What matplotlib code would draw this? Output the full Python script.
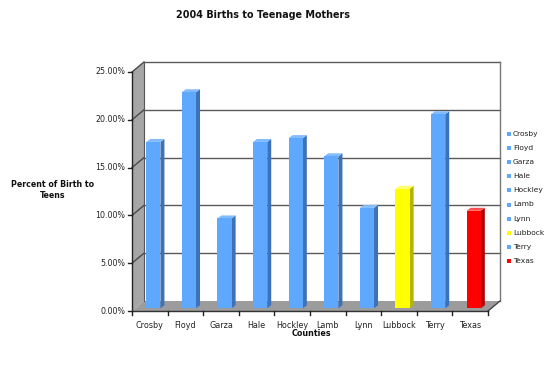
import matplotlib
matplotlib.use("Agg")
import matplotlib.pyplot as plt
from matplotlib.patches import Polygon
from matplotlib.transforms import IdentityTransform
from matplotlib.lines import Line2D
import numpy as np

counties = ["Crosby", "Floyd", "Garza", "Hale", "Hockley", "Lamb", "Lynn", "Lubbock", "Terry", "Texas"]
values = [17.4, 22.6, 9.4, 17.4, 17.8, 15.9, 10.5, 12.5, 20.3, 10.2]
colors = ["blue"] * 7 + ["yellow", "blue", "red"]
yticks = [0, 5, 10, 15, 20, 25]
ytick_labels = ["0.00%", "5.00%", "10.00%", "15.00%", "20.00%", "25.00%"]

palette = {
    "blue": ("#5fa8ff", "#3d72b8", "#82bcff"),
    "yellow": ("#ffff00", "#b5b500", "#ffff66"),
    "red": ("#ff0000", "#b00000", "#ff5050"),
}

W, H = 553, 377
fig = plt.figure(figsize=(W / 100, H / 100), dpi=100)
fig.patch.set_facecolor("white")

# front plane: x 132..488 px, y(0%)=311, y(25%)=72 (image coords)
x0, x1 = 132, 488
yb, yt = 311, 72
ax = fig.add_axes([x0 / W, (H - yb) / H, (x1 - x0) / W, (yb - yt) / H])
ax.set_xlim(0, len(counties))
ax.set_ylim(0, 25)
ax.axis("off")
fig.canvas.draw()

T = ax.transData
DX, DY = 12, 10  # depth offset in pixels (display: y up)


def pt(x, y, ox=0.0, oy=0.0):
    p = T.transform((x, y))
    return (p[0] + ox, p[1] + oy)


def poly(pts, fc, ec="none", lw=0.0, z=1):
    fig.patches.append(Polygon(pts, closed=True, transform=IdentityTransform(),
                               facecolor=fc, edgecolor=ec, linewidth=lw, zorder=z,
                               figure=fig))


def line(p, q, color="#505050", lw=1.0, z=2):
    fig.lines.append(Line2D([p[0], q[0]], [p[1], q[1]], transform=IdentityTransform(),
                            color=color, linewidth=lw, zorder=z, figure=fig))


n = len(counties)
# left wall
poly([pt(0, 0), pt(0, 25), pt(0, 25, DX, DY), pt(0, 0, DX, DY)], "#a6a6a6", z=1)
# floor
poly([pt(0, 0), pt(n, 0), pt(n, 0, DX, DY), pt(0, 0, DX, DY)], "#9c9c9c", z=1)
# gridlines (left wall + back wall)
for v in yticks[1:]:
    line(pt(0, v), pt(0, v, DX, DY), "#4a4a4a", 1.0, 2)
    line(pt(0, v, DX, DY), pt(n, v, DX, DY), "#5a5a5a", 1.0, 2)
# back wall right edge and floor corner
line(pt(n, 0, DX, DY), pt(n, 25, DX, DY), "#777777", 1.0, 2)
line(pt(n, 0), pt(n, 0, DX, DY), "#444444", 1.0, 2)
line(pt(0, 0, DX, DY), pt(0, 25, DX, DY), "#555555", 0.8, 2)

# bars
bw = 0.4
fx, fy = 3.5, 2.7   # bar front face offset
bdx, bdy = 4.0, 3.0  # bar depth
for i, (v, c) in enumerate(zip(values, colors)):
    front, side, top = palette[c]
    xl = i + 0.5 - bw / 2
    xr = i + 0.5 + bw / 2
    # side face
    poly([pt(xr, 0, fx, fy), pt(xr, v, fx, fy), pt(xr, v, fx + bdx, fy + bdy), pt(xr, 0, fx + bdx, fy + bdy)], side, z=3)
    # top face
    poly([pt(xl, v, fx, fy), pt(xr, v, fx, fy), pt(xr, v, fx + bdx, fy + bdy), pt(xl, v, fx + bdx, fy + bdy)], top, z=3)
    # front face
    poly([pt(xl, 0, fx, fy), pt(xr, 0, fx, fy), pt(xr, v, fx, fy), pt(xl, v, fx, fy)], front, z=4)

# axes lines
line(pt(0, 0), pt(0, 25), "#222222", 1.0, 5)
line(pt(0, 0), pt(n, 0), "#333333", 1.0, 5)
for v, lab in zip(yticks, ytick_labels):
    p = pt(0, v)
    line(p, (p[0] - 4, p[1]), "#222222", 1.0, 5)
    fig.text((p[0] - 7) / W, p[1] / H, lab, ha="right", va="center",
             fontsize=5.7, color="#222222")
for i in range(n + 1):
    p = pt(i, 0)
    line(p, (p[0], p[1] - 4), "#222222", 1.0, 5)
for i, name in enumerate(counties):
    p = pt(i + 0.5, 0)
    fig.text(p[0] / W, (p[1] - 14) / H, name, ha="center", va="center",
             fontsize=5.8, color="#222222")

# titles
fig.text(263 / W, (H - 15) / H, "2004 Births to Teenage Mothers", ha="center", va="center",
         fontsize=6.9, fontweight="bold", color="#111111")
fig.text(311 / W, (H - 334) / H, "Counties", ha="center", va="center",
         fontsize=5.8, fontweight="bold", color="#111111")
fig.text(53 / W, (H - 190) / H, "Percent of Birth to\nTeens", ha="center", va="center",
         fontsize=5.7, fontweight="bold", color="#111111", linespacing=1.2)

# legend
for i, (name, c) in enumerate(zip(counties, colors)):
    y = 134 + i * 14.1
    fig.patches.append(Polygon([(507, H - y - 2), (511, H - y - 2), (511, H - y + 2), (507, H - y + 2)],
                               closed=True, transform=IdentityTransform(), facecolor=palette[c][0],
                               edgecolor="none", figure=fig))
    fig.text(513 / W, (H - y) / H, name, ha="left", va="center", fontsize=5.4, color="#222222")

fig.savefig("out.png", dpi=100)
